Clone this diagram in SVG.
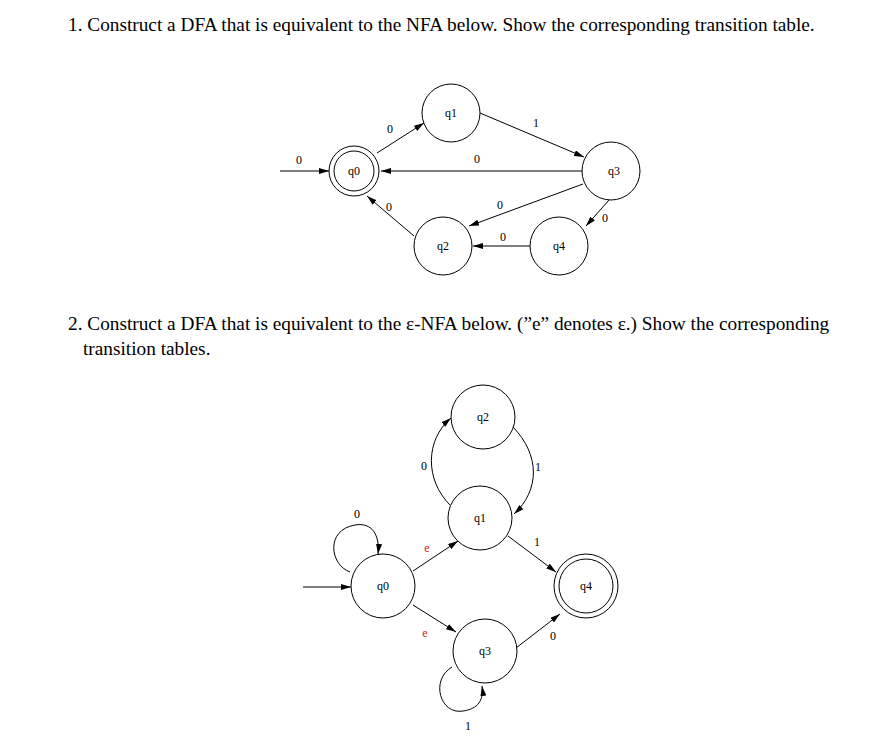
<svg xmlns="http://www.w3.org/2000/svg" width="894" height="756" viewBox="0 0 894 756">
<style>
.t{font-family:"Liberation Serif",serif;font-size:19.3px;fill:#000}
.s{fill:#fff;stroke:#000;stroke-width:1}
.l{font-family:"Liberation Serif",serif;font-size:12px;fill:#000;text-anchor:middle}
.e{stroke:#000;stroke-width:1;fill:none;marker-end:url(#a)}
.r{fill:#e02020}
</style>
<defs><marker id="a" markerWidth="10" markerHeight="6" refX="10" refY="3" orient="auto" markerUnits="userSpaceOnUse"><path d="M0,0L10,3L0,6z" fill="#000"/></marker></defs>
<rect width="894" height="756" fill="#fff"/>
<text class="t" x="68" y="31">1. Construct a DFA that is equivalent to the NFA below. Show the corresponding transition table.</text>
<text class="t" x="68" y="330">2. Construct a DFA that is equivalent to the ε-NFA below. (”e” denotes ε.) Show the corresponding</text>
<text class="t" x="83" y="355">transition tables.</text>
<g id="edges">
<line class="e" x1="280" y1="171" x2="329" y2="171"/>
<line class="e" x1="377" y1="153" x2="424" y2="123"/>
<line class="e" x1="480" y1="113" x2="584" y2="157"/>
<line class="e" x1="582" y1="171" x2="381" y2="171"/>
<line class="e" x1="583" y1="184" x2="469" y2="226"/>
<line class="e" x1="609" y1="200" x2="586" y2="226"/>
<line class="e" x1="530" y1="246" x2="473" y2="246"/>
<line class="e" x1="414" y1="236" x2="367" y2="196"/>
<line class="e" x1="303" y1="587" x2="351" y2="587"/>
<path class="e" d="M350,572 C330,565 325,530 355,525 C372,522 380,535 378,554"/>
<line class="e" x1="413" y1="571" x2="458" y2="541"/>
<line class="e" x1="413" y1="605" x2="456" y2="632"/>
<path class="e" d="M450,505 C425,480 425,440 451,418"/>
<path class="e" d="M513,427 C540,455 540,490 514,514"/>
<line class="e" x1="508" y1="536" x2="556" y2="572"/>
<line class="e" x1="516" y1="648" x2="560" y2="614"/>
<path class="e" d="M452,667 C430,680 440,715 463,711 C478,709 484,700 482,686"/>
</g>
<g id="labels1">
<text class="l" x="299" y="164">0</text>
<text class="l" x="390" y="133">0</text>
<text class="l" x="536" y="127">1</text>
<text class="l" x="477" y="163">0</text>
<text class="l" x="500" y="209">0</text>
<text class="l" x="605" y="222">0</text>
<text class="l" x="503" y="241">0</text>
<text class="l" x="389" y="211">0</text>
</g>
<g id="n1q0"><circle class="s" cx="354" cy="171" r="25"/><circle class="s" cx="354" cy="171" r="20"/><text class="l" x="354" y="175">q0</text></g>
<g id="n1q1"><circle class="s" cx="451" cy="113" r="29"/><text class="l" x="451" y="117">q1</text></g>
<g id="n1q3"><circle class="s" cx="611" cy="171" r="29"/><text class="l" x="614" y="175">q3</text></g>
<g id="n1q2"><circle class="s" cx="443" cy="246" r="29"/><text class="l" x="443" y="250">q2</text></g>
<g id="n1q4"><circle class="s" cx="559" cy="246" r="29"/><text class="l" x="559" y="250">q4</text></g>
<g id="labels2">
<text class="l" x="357" y="518">0</text>
<text class="l r" x="427" y="552">e</text>
<text class="l r" x="425" y="637">e</text>
<text class="l" x="424" y="470">0</text>
<text class="l" x="538" y="471">1</text>
<text class="l" x="537" y="546">1</text>
<text class="l" x="553" y="640">0</text>
<text class="l" x="468" y="730">1</text>
</g>
<g id="n2q2"><circle class="s" cx="483" cy="417" r="32"/><text class="l" x="483" y="421">q2</text></g>
<g id="n2q1"><circle class="s" cx="480" cy="518" r="32"/><text class="l" x="480" y="522">q1</text></g>
<g id="n2q0"><circle class="s" cx="383" cy="586" r="32"/><text class="l" x="383" y="590">q0</text></g>
<g id="n2q3"><circle class="s" cx="485" cy="651" r="32"/><text class="l" x="485" y="655">q3</text></g>
<g id="n2q4"><circle class="s" cx="586" cy="586" r="32"/><circle class="s" cx="586" cy="586" r="27"/><text class="l" x="586" y="590">q4</text></g>
</svg>
